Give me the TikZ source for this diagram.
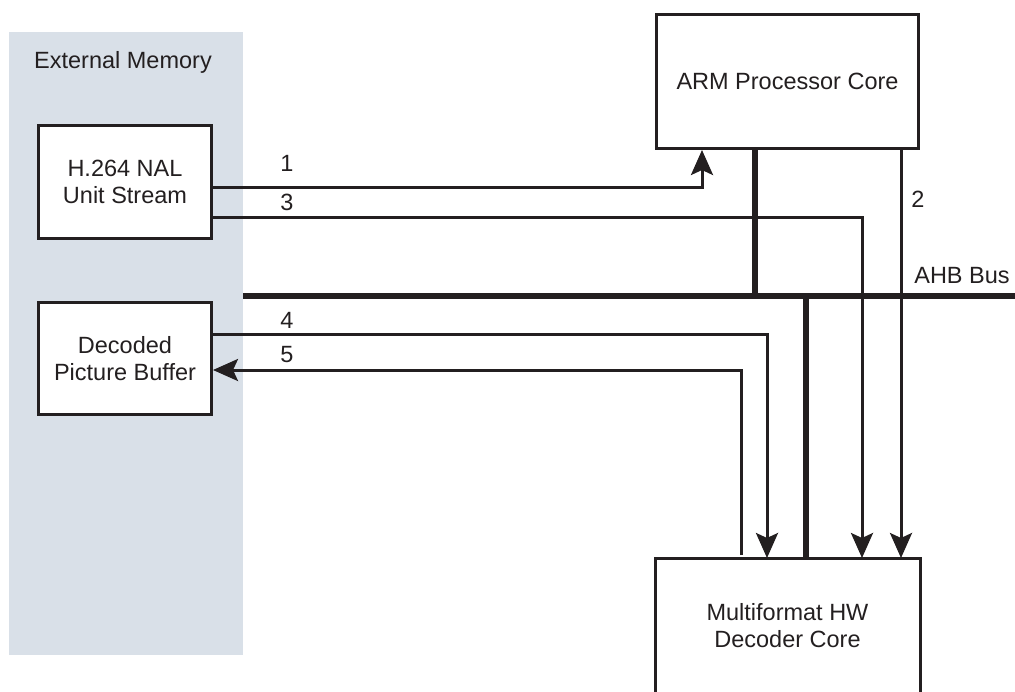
\documentclass[tikz,border=0pt]{standalone}
\usepackage{fontspec}
\setmainfont{Liberation Sans}
\usetikzlibrary{arrows.meta}
\definecolor{ink}{HTML}{231F20}
\definecolor{memgray}{HTML}{D9E0E8}
\begin{document}
\begin{tikzpicture}[x=1pt,y=-1pt,
  every node/.style={font=\fontsize{23.5}{27}\selectfont, text=ink},
  box/.style={draw=ink, line width=3pt, fill=white, align=center, inner sep=0pt},
  arr/.style={draw=ink, line width=3pt, -{Stealth[length=25pt,width=22pt,inset=5pt]}},
  thin/.style={draw=ink, line width=3pt},
  bus/.style={draw=ink, line width=6pt},
  lbl/.style={inner sep=0pt}]
\useasboundingbox (0,0) rectangle (1015,691);
% external memory area
\fill[memgray] (9,32) rectangle (243,655);
\node[lbl] (ext) at (123,62) {External Memory};
% boxes
\node[box, minimum width=173pt, minimum height=113pt] (nal) at (125,182) {H.264 NAL\\Unit Stream};
\node[box, minimum width=173pt, minimum height=112pt] (dpb) at (125,358.5) {Decoded\\Picture Buffer};
\node[box, minimum width=262pt, minimum height=134pt] (arm) at (787.5,81.5) {ARM Processor Core};
\node[align=center, inner sep=0pt, minimum width=262pt, minimum height=133pt, outer sep=1.5pt] (dec) at (787.5,626) {Multiformat HW\\Decoder Core};
\draw[thin] (dec.south west) -- (dec.north west) -- (dec.north east) -- (dec.south east);
% kink coordinates
\coordinate (k1) at (702,187);
\coordinate (k3) at (862,217);
\coordinate (k4) at (767,334);
\coordinate (k5) at (741,370);
\coordinate (k2) at (901,0);
\coordinate (k5end) at (741,555);
\coordinate (busL) at (243,296);
\coordinate (busR) at (1015,296);
\coordinate (armbus) at (755,296);
\coordinate (decbus) at (806,296);
% bus
\draw[bus] (busL) -- (busR);
\draw[bus] (arm.south -| armbus) -- (armbus);
\draw[bus] (decbus) -- (dec.north -| decbus);
% connectors
\draw[arr] (nal.east |- k1) -| (arm.south -| k1);
\draw[arr] (nal.east |- k3) -| (dec.north -| k3);
\draw[arr] (arm.south -| k2) -- (dec.north -| k2);
\draw[arr] (dpb.east |- k4) -| (dec.north -| k4);
\draw[arr] (k5end) |- (dpb.east |- k5);
% labels
\node[lbl] (l1) at (287,163) {1};
\node[lbl] (l3) at (287,202) {3};
\node[lbl] (l4) at (287,320) {4};
\node[lbl] (l5) at (287,355) {5};
\node[lbl] (l2) at (918,199) {2};
\node[lbl] (ahb) at (962,276) {AHB Bus};
\end{tikzpicture}
\end{document}
